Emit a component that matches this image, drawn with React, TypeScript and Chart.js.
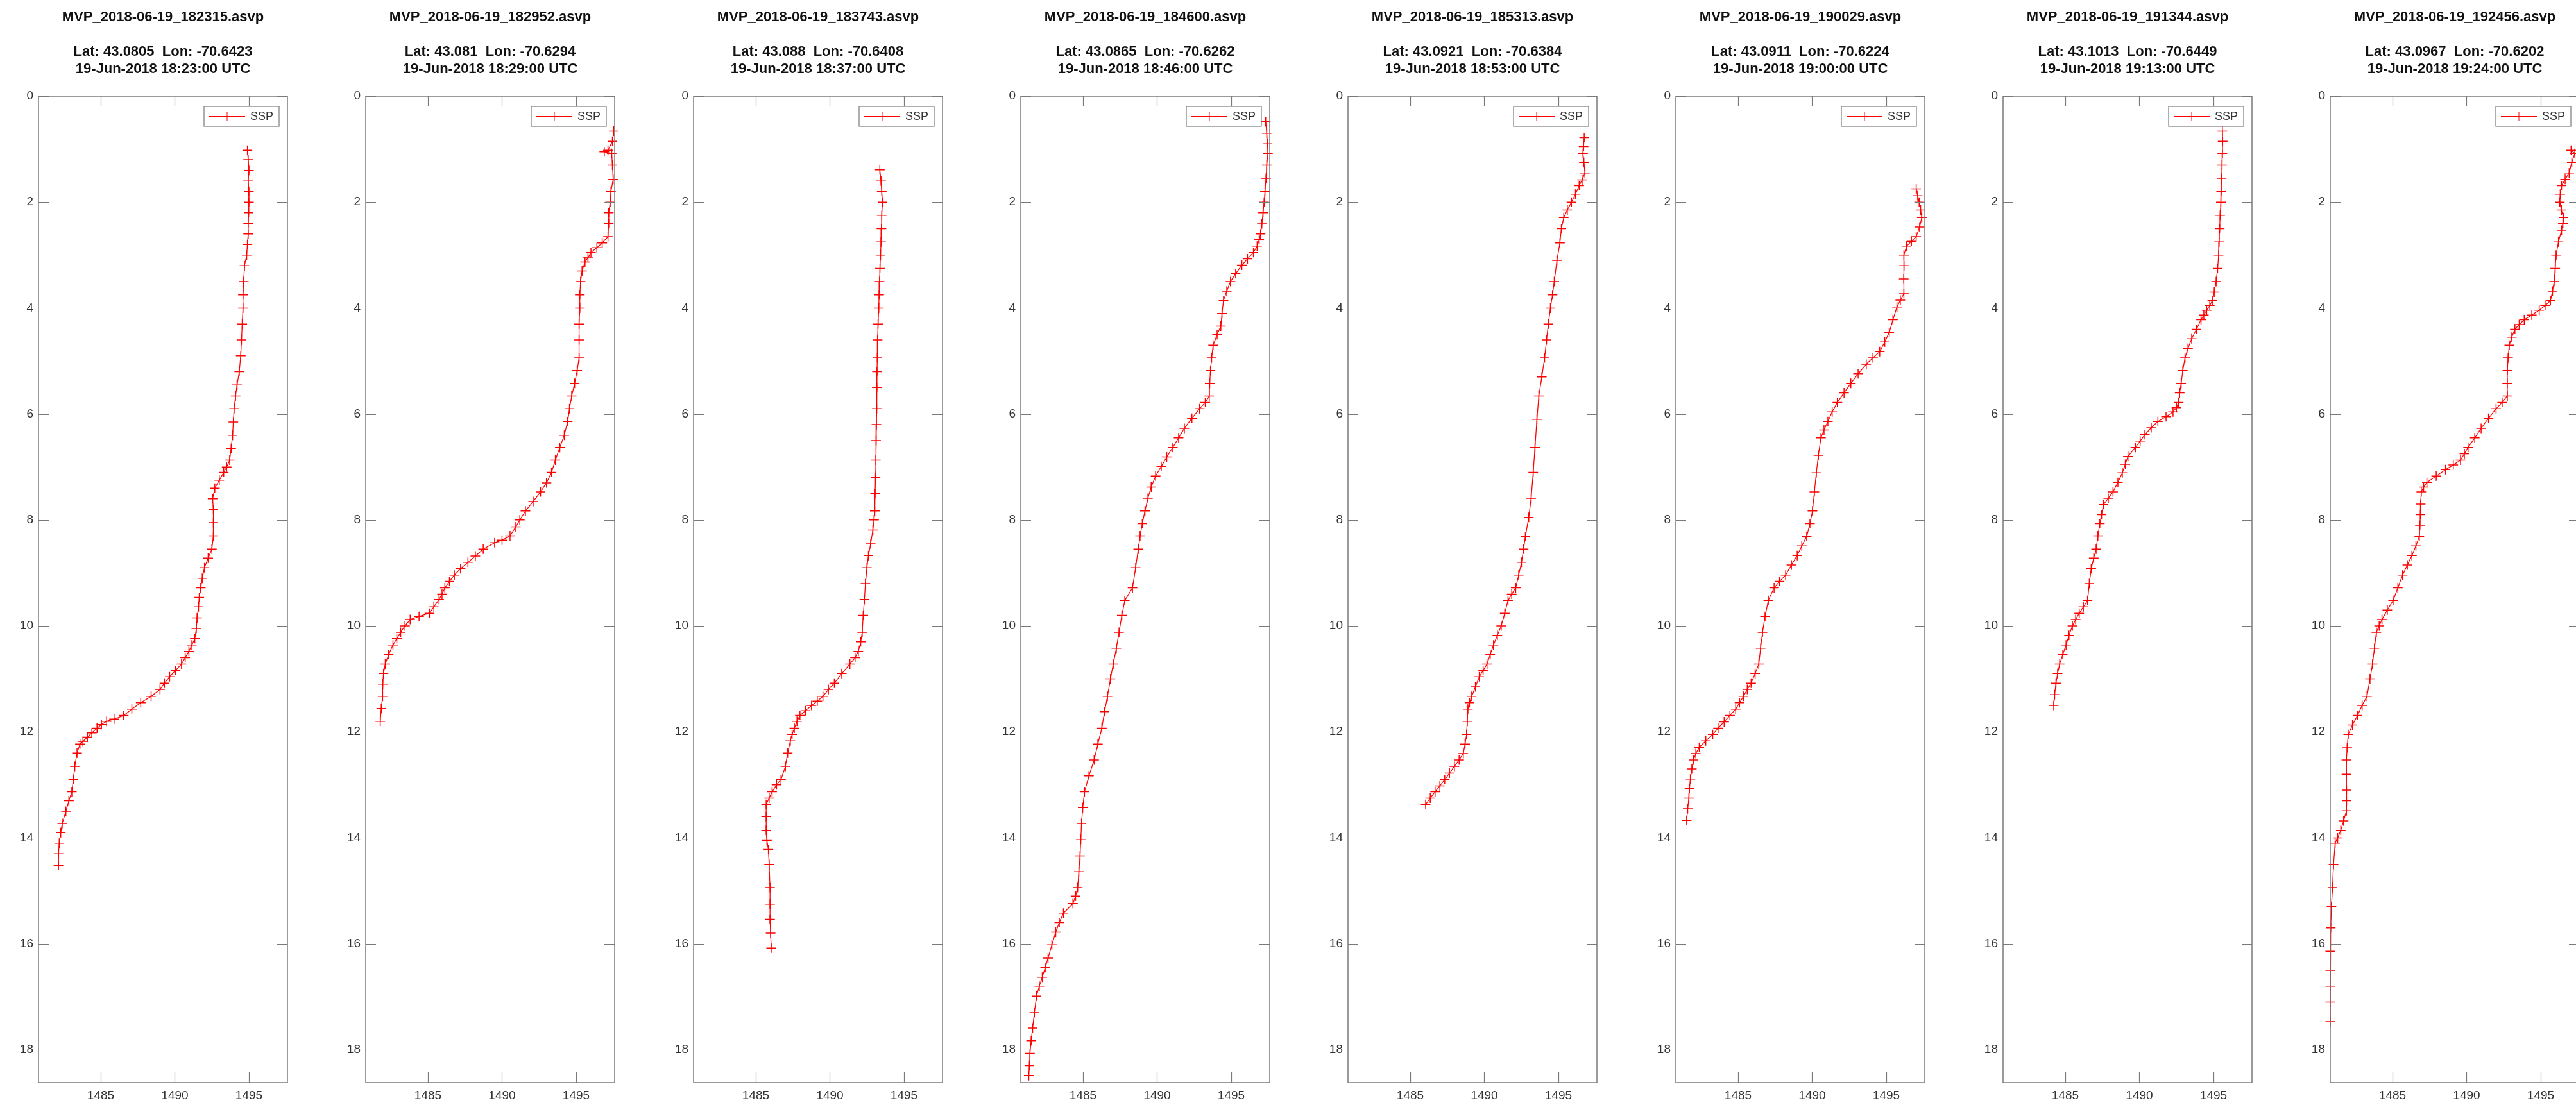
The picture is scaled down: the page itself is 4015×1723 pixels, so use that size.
import React, { useEffect, useRef } from "react";
import { Chart, registerables } from "chart.js";

Chart.register(...registerables);

// ---- profile metadata ----
const fileNames = [
  "MVP_2018-06-19_182315.asvp",
  "MVP_2018-06-19_182952.asvp",
  "MVP_2018-06-19_183743.asvp",
  "MVP_2018-06-19_184600.asvp",
  "MVP_2018-06-19_185313.asvp",
  "MVP_2018-06-19_190029.asvp",
  "MVP_2018-06-19_191344.asvp",
  "MVP_2018-06-19_192456.asvp",
];
const lats = ["43.0805", "43.081", "43.088", "43.0865", "43.0921", "43.0911", "43.1013", "43.0967"];
const lons = ["-70.6423", "-70.6294", "-70.6408", "-70.6262", "-70.6384", "-70.6224", "-70.6449", "-70.6202"];
const times = [
  "19-Jun-2018 18:23:00 UTC",
  "19-Jun-2018 18:29:00 UTC",
  "19-Jun-2018 18:37:00 UTC",
  "19-Jun-2018 18:46:00 UTC",
  "19-Jun-2018 18:53:00 UTC",
  "19-Jun-2018 19:00:00 UTC",
  "19-Jun-2018 19:13:00 UTC",
  "19-Jun-2018 19:24:00 UTC",
];

// ---- axis ticks ----
const speedTicks = [1485, 1490, 1495];
const depthTicks = [0, 2, 4, 6, 8, 10, 12, 14, 16, 18];

// ---- sound speed profiles: depth (m) and sound speed (m/s) ----
const depth1 = [1.02, 1.2, 1.4, 1.6, 1.8, 2.0, 2.2, 2.4, 2.6, 2.8, 3.0, 3.2, 3.5, 3.75, 4.0, 4.3, 4.6, 4.9, 5.2, 5.45, 5.66, 5.9, 6.15, 6.4, 6.65, 6.87, 7.0, 7.1, 7.25, 7.4, 7.6, 7.8, 8.05, 8.3, 8.55, 8.72, 8.9, 9.1, 9.28, 9.46, 9.64, 9.85, 10.05, 10.24, 10.36, 10.48, 10.6, 10.72, 10.84, 10.96, 11.08, 11.2, 11.33, 11.45, 11.57, 11.69, 11.76, 11.8, 11.86, 11.93, 12.02, 12.1, 12.18, 12.23, 12.4, 12.65, 12.9, 13.13, 13.3, 13.5, 13.73, 13.9, 14.1, 14.3, 14.52];
const ssp1 = [1494.9, 1494.95, 1495.0, 1494.95, 1495.0, 1495.0, 1494.98, 1494.95, 1494.95, 1494.9, 1494.85, 1494.7, 1494.65, 1494.6, 1494.6, 1494.55, 1494.5, 1494.45, 1494.35, 1494.2, 1494.1, 1494.0, 1493.95, 1493.9, 1493.8, 1493.7, 1493.5, 1493.3, 1493.0, 1492.7, 1492.55, 1492.6, 1492.6, 1492.6, 1492.5, 1492.25, 1492.0, 1491.85, 1491.75, 1491.65, 1491.6, 1491.5, 1491.45, 1491.35, 1491.15, 1490.95, 1490.7, 1490.45, 1490.05, 1489.65, 1489.3, 1489.0, 1488.4, 1487.7, 1487.1, 1486.55, 1485.9, 1485.4, 1485.05, 1484.75, 1484.4, 1484.1, 1483.8, 1483.6, 1483.4, 1483.25, 1483.15, 1483.05, 1482.85, 1482.65, 1482.4, 1482.3, 1482.2, 1482.15, 1482.15];

const depth2 = [0.66, 0.85, 1.02, 1.05, 1.08, 1.3, 1.57, 1.8, 2.0, 2.2, 2.4, 2.65, 2.77, 2.86, 2.95, 3.05, 3.13, 3.3, 3.5, 3.75, 4.0, 4.3, 4.6, 4.94, 5.18, 5.42, 5.66, 5.9, 6.14, 6.4, 6.63, 6.87, 7.1, 7.3, 7.47, 7.65, 7.83, 8.0, 8.13, 8.3, 8.38, 8.43, 8.55, 8.68, 8.8, 8.92, 9.04, 9.16, 9.28, 9.4, 9.5, 9.64, 9.76, 9.82, 9.88, 10.0, 10.12, 10.24, 10.36, 10.54, 10.72, 10.9, 11.1, 11.33, 11.56, 11.8];
const ssp2 = [1497.54, 1497.45, 1497.15, 1496.9, 1497.4, 1497.45, 1497.5, 1497.35, 1497.3, 1497.2, 1497.2, 1497.15, 1496.76, 1496.4, 1496.0, 1495.8, 1495.6, 1495.4, 1495.3, 1495.25, 1495.25, 1495.2, 1495.2, 1495.2, 1495.07, 1494.9, 1494.7, 1494.55, 1494.43, 1494.2, 1493.9, 1493.6, 1493.34, 1493.0, 1492.6, 1492.1, 1491.58, 1491.2, 1490.93, 1490.54, 1490.0, 1489.5, 1488.73, 1488.2, 1487.7, 1487.2, 1486.78, 1486.45, 1486.14, 1485.95, 1485.75, 1485.4, 1485.1, 1484.4, 1483.8, 1483.45, 1483.16, 1482.9, 1482.64, 1482.35, 1482.12, 1482.0, 1481.95, 1481.94, 1481.85, 1481.78];

const depth3 = [1.39, 1.6, 1.8, 2.0, 2.25, 2.5, 2.75, 3.0, 3.25, 3.5, 3.75, 4.0, 4.3, 4.6, 4.94, 5.2, 5.5, 5.9, 6.2, 6.5, 6.87, 7.2, 7.5, 7.83, 8.0, 8.19, 8.45, 8.67, 8.9, 9.2, 9.5, 9.8, 10.12, 10.3, 10.48, 10.6, 10.72, 10.9, 11.08, 11.2, 11.33, 11.42, 11.5, 11.6, 11.69, 11.8, 11.93, 12.05, 12.17, 12.4, 12.65, 12.9, 13.0, 13.13, 13.25, 13.37, 13.6, 13.86, 14.05, 14.22, 14.5, 14.94, 15.25, 15.54, 15.8, 16.08];
const ssp3 = [1493.37, 1493.45, 1493.5, 1493.55, 1493.5, 1493.48, 1493.45, 1493.42, 1493.38, 1493.35, 1493.32, 1493.3, 1493.25, 1493.22, 1493.2, 1493.18, 1493.17, 1493.16, 1493.14, 1493.12, 1493.1, 1493.08, 1493.05, 1493.03, 1492.98, 1492.9, 1492.75, 1492.6, 1492.5, 1492.4, 1492.33, 1492.25, 1492.18, 1492.08, 1491.92, 1491.7, 1491.35, 1490.8, 1490.3, 1489.9, 1489.53, 1489.15, 1488.76, 1488.35, 1487.98, 1487.78, 1487.6, 1487.45, 1487.33, 1487.15, 1487.0, 1486.7, 1486.4, 1486.1, 1485.9, 1485.7, 1485.7, 1485.7, 1485.75, 1485.85, 1485.9, 1485.96, 1485.96, 1485.96, 1486.0, 1486.04];

const depth4 = [0.48, 0.7, 0.9, 1.08, 1.3, 1.55, 1.8, 2.0, 2.2, 2.41, 2.6, 2.71, 2.83, 2.95, 3.07, 3.19, 3.35, 3.5, 3.68, 3.86, 4.1, 4.34, 4.5, 4.7, 4.94, 5.18, 5.42, 5.66, 5.78, 5.9, 6.08, 6.27, 6.45, 6.63, 6.81, 6.99, 7.17, 7.38, 7.59, 7.83, 8.07, 8.3, 8.55, 8.9, 9.28, 9.52, 9.8, 10.12, 10.42, 10.72, 11.0, 11.33, 11.62, 11.93, 12.23, 12.53, 12.83, 13.13, 13.43, 13.73, 14.03, 14.34, 14.64, 14.94, 15.1, 15.24, 15.42, 15.6, 15.78, 16.02, 16.27, 16.45, 16.63, 16.8, 16.99, 17.3, 17.59, 17.83, 18.07, 18.3, 18.49];
const ssp4 = [1497.33, 1497.4, 1497.45, 1497.48, 1497.4, 1497.35, 1497.28, 1497.22, 1497.15, 1497.07, 1496.98, 1496.89, 1496.75, 1496.5, 1496.1, 1495.72, 1495.3, 1494.95, 1494.7, 1494.48, 1494.38, 1494.3, 1494.05, 1493.78, 1493.68, 1493.6, 1493.55, 1493.52, 1493.25, 1492.87, 1492.35, 1491.84, 1491.45, 1491.06, 1490.65, 1490.28, 1489.9, 1489.6, 1489.38, 1489.18, 1489.0, 1488.85, 1488.73, 1488.55, 1488.34, 1487.82, 1487.62, 1487.43, 1487.25, 1487.04, 1486.85, 1486.65, 1486.45, 1486.27, 1486.0, 1485.75, 1485.4, 1485.1, 1484.98, 1484.9, 1484.85, 1484.8, 1484.72, 1484.64, 1484.5, 1484.32, 1483.68, 1483.4, 1483.16, 1482.9, 1482.64, 1482.45, 1482.25, 1482.05, 1481.86, 1481.72, 1481.6, 1481.5, 1481.42, 1481.38, 1481.34];

const depth5 = [0.78, 0.95, 1.08, 1.25, 1.45, 1.58, 1.69, 1.85, 2.0, 2.15, 2.29, 2.5, 2.77, 3.1, 3.5, 3.75, 4.0, 4.3, 4.6, 4.94, 5.3, 5.66, 6.1, 6.63, 7.1, 7.59, 7.95, 8.31, 8.55, 8.8, 9.04, 9.28, 9.4, 9.52, 9.76, 10.0, 10.18, 10.36, 10.54, 10.72, 10.84, 10.96, 11.15, 11.33, 11.45, 11.57, 11.8, 12.05, 12.23, 12.41, 12.53, 12.65, 12.78, 12.9, 13.02, 13.13, 13.25, 13.37];
const ssp5 = [1496.74, 1496.7, 1496.66, 1496.72, 1496.79, 1496.6, 1496.4, 1496.15, 1495.88, 1495.6, 1495.36, 1495.2, 1495.1, 1494.9, 1494.72, 1494.6, 1494.46, 1494.32, 1494.2, 1494.07, 1493.88, 1493.68, 1493.55, 1493.42, 1493.3, 1493.16, 1493.0, 1492.77, 1492.65, 1492.51, 1492.32, 1492.12, 1491.85, 1491.6, 1491.38, 1491.14, 1490.88, 1490.62, 1490.4, 1490.18, 1489.92, 1489.66, 1489.4, 1489.15, 1489.0, 1488.89, 1488.85, 1488.8, 1488.7, 1488.58, 1488.3, 1487.98, 1487.65, 1487.33, 1487.0, 1486.68, 1486.35, 1486.04];

const depth6 = [1.75, 1.88, 2.0, 2.15, 2.29, 2.47, 2.65, 2.74, 2.83, 3.0, 3.2, 3.45, 3.73, 3.85, 3.98, 4.22, 4.46, 4.64, 4.82, 4.94, 5.06, 5.24, 5.42, 5.6, 5.78, 5.96, 6.14, 6.3, 6.45, 6.78, 7.11, 7.47, 7.83, 8.07, 8.31, 8.49, 8.67, 8.85, 9.04, 9.16, 9.28, 9.52, 9.82, 10.12, 10.42, 10.72, 10.9, 11.08, 11.2, 11.33, 11.45, 11.57, 11.69, 11.81, 11.93, 12.05, 12.17, 12.29, 12.41, 12.53, 12.7, 12.89, 13.07, 13.25, 13.45, 13.67];
const ssp6 = [1497.02, 1497.12, 1497.22, 1497.32, 1497.4, 1497.25, 1497.02, 1496.7, 1496.37, 1496.19, 1496.2, 1496.18, 1496.19, 1495.95, 1495.72, 1495.45, 1495.2, 1494.9, 1494.56, 1494.1, 1493.65, 1493.1, 1492.61, 1492.15, 1491.7, 1491.35, 1491.06, 1490.8, 1490.59, 1490.42, 1490.28, 1490.15, 1490.02, 1489.85, 1489.63, 1489.3, 1488.99, 1488.6, 1488.21, 1487.8, 1487.43, 1487.04, 1486.82, 1486.65, 1486.52, 1486.4, 1486.15, 1485.88, 1485.62, 1485.36, 1485.1, 1484.84, 1484.45, 1484.06, 1483.65, 1483.29, 1482.82, 1482.38, 1482.15, 1481.99, 1481.88, 1481.78, 1481.72, 1481.68, 1481.6, 1481.53];

const depth7 = [0.66, 0.85, 1.08, 1.3, 1.55, 1.8, 2.0, 2.25, 2.5, 2.75, 3.0, 3.25, 3.5, 3.7, 3.86, 3.95, 4.04, 4.13, 4.22, 4.4, 4.58, 4.76, 4.94, 5.18, 5.42, 5.6, 5.78, 5.88, 5.96, 6.05, 6.14, 6.26, 6.39, 6.51, 6.63, 6.8, 6.95, 7.11, 7.29, 7.47, 7.59, 7.71, 7.9, 8.07, 8.3, 8.55, 8.72, 8.92, 9.2, 9.52, 9.64, 9.76, 9.88, 10.0, 10.18, 10.36, 10.54, 10.72, 10.9, 11.08, 11.3, 11.5];
const ssp7 = [1495.6, 1495.62, 1495.6, 1495.58, 1495.55, 1495.52, 1495.5, 1495.45, 1495.42, 1495.38, 1495.35, 1495.28, 1495.18, 1495.05, 1494.92, 1494.75, 1494.54, 1494.35, 1494.16, 1493.85, 1493.53, 1493.28, 1493.08, 1492.93, 1492.82, 1492.72, 1492.65, 1492.5, 1492.27, 1491.8, 1491.25, 1490.8, 1490.37, 1490.05, 1489.73, 1489.23, 1489.05, 1488.85, 1488.55, 1488.22, 1487.9, 1487.58, 1487.45, 1487.33, 1487.2, 1487.08, 1486.92, 1486.75, 1486.62, 1486.5, 1486.22, 1485.94, 1485.7, 1485.48, 1485.25, 1485.05, 1484.83, 1484.62, 1484.48, 1484.37, 1484.28, 1484.22];

const depth8 = [1.02, 1.08, 1.25, 1.45, 1.57, 1.69, 1.85, 2.0, 2.15, 2.29, 2.4, 2.53, 2.75, 3.0, 3.25, 3.5, 3.68, 3.86, 3.95, 4.04, 4.13, 4.22, 4.31, 4.4, 4.55, 4.7, 4.94, 5.18, 5.42, 5.66, 5.78, 5.9, 6.08, 6.27, 6.45, 6.63, 6.75, 6.87, 6.96, 7.05, 7.17, 7.29, 7.38, 7.47, 7.7, 7.9, 8.1, 8.31, 8.49, 8.67, 8.85, 9.04, 9.28, 9.52, 9.7, 9.88, 10.0, 10.12, 10.42, 10.72, 11.0, 11.33, 11.5, 11.69, 11.87, 12.05, 12.3, 12.53, 12.8, 13.1, 13.3, 13.49, 13.68, 13.86, 14.0, 14.1, 14.5, 14.94, 15.3, 15.7, 16.14, 16.5, 16.8, 17.1, 17.47];
const ssp8 = [1497.05, 1497.3, 1497.1, 1496.92, 1496.65, 1496.41, 1496.32, 1496.29, 1496.4, 1496.54, 1496.5, 1496.41, 1496.2, 1496.04, 1495.98, 1495.91, 1495.8, 1495.66, 1495.3, 1494.9, 1494.4, 1493.89, 1493.55, 1493.26, 1493.05, 1492.88, 1492.8, 1492.75, 1492.74, 1492.75, 1492.4, 1491.99, 1491.48, 1490.98, 1490.55, 1490.1, 1489.85, 1489.59, 1489.1, 1488.58, 1487.95, 1487.32, 1487.1, 1486.94, 1486.9, 1486.88, 1486.85, 1486.81, 1486.58, 1486.31, 1486.0, 1485.68, 1485.36, 1485.04, 1484.65, 1484.29, 1484.1, 1483.91, 1483.78, 1483.65, 1483.48, 1483.28, 1482.95, 1482.64, 1482.3, 1482.01, 1481.94, 1481.89, 1481.89, 1481.9, 1481.9, 1481.89, 1481.7, 1481.51, 1481.3, 1481.13, 1481.02, 1480.95, 1480.88, 1480.83, 1480.8, 1480.8, 1480.8, 1480.8, 1480.8];

const depths = [depth1, depth2, depth3, depth4, depth5, depth6, depth7, depth8];
const speeds = [ssp1, ssp2, ssp3, ssp4, ssp5, ssp6, ssp7, ssp8];

// ---- layout ----
const PAGE_W = 4015;
const PAGE_H = 1723;
const FIRST_PLOT_LEFT = 60;
const PANEL_STEP = 510.3;
const CANVAS_W = 510;
const Y_AXIS_W = 60;
const PLOT_W = 388;
const PLOT_TOP = 150;
const X_AXIS_H = 35;

const SPEED_MIN = 1480.8;
const SPEED_MAX = 1497.6;
const DEPTH_MAX = 18.62;

const FONT = "'Liberation Sans', Arial, Helvetica, sans-serif";
const AXIS_COLOR = "#7a7a7a";
const LABEL_COLOR = "#333333";
const LINE_COLOR = "#ff0000";
const TICK_LEN = 16;

const framePlugin = {
  id: "profileFrame",
  afterDatasetsDraw(chart: any, _args: any, opts: any) {
    const { ctx, chartArea } = chart;
    const { left, right, top, bottom } = chartArea;
    const xs = chart.scales.x;
    const ys = chart.scales.y;
    ctx.save();
    // axes box
    ctx.strokeStyle = AXIS_COLOR;
    ctx.lineWidth = 1.5;
    ctx.strokeRect(left, top, right - left, bottom - top);
    // inward ticks on all four sides
    ctx.lineWidth = 1.2;
    ctx.beginPath();
    for (const v of speedTicks) {
      const px = Math.round(xs.getPixelForValue(v)) + 0.5;
      ctx.moveTo(px, bottom);
      ctx.lineTo(px, bottom - TICK_LEN);
      ctx.moveTo(px, top);
      ctx.lineTo(px, top + TICK_LEN);
    }
    for (const v of depthTicks) {
      const py = Math.round(ys.getPixelForValue(v)) + 0.5;
      ctx.moveTo(left, py);
      ctx.lineTo(left + TICK_LEN, py);
      ctx.moveTo(right, py);
      ctx.lineTo(right - TICK_LEN, py);
    }
    ctx.stroke();

    // legend box
    const lx0 = left + 258;
    const lx1 = left + 375;
    const ly0 = top + 16;
    const ly1 = top + 47;
    const lyc = (ly0 + ly1) / 2;
    ctx.fillStyle = "#ffffff";
    ctx.fillRect(lx0, ly0, lx1 - lx0, ly1 - ly0);
    ctx.strokeStyle = AXIS_COLOR;
    ctx.lineWidth = 1.2;
    ctx.strokeRect(lx0, ly0, lx1 - lx0, ly1 - ly0);
    ctx.strokeStyle = LINE_COLOR;
    ctx.lineWidth = 1;
    ctx.beginPath();
    ctx.moveTo(lx0 + 8, lyc);
    ctx.lineTo(lx0 + 64, lyc);
    ctx.moveTo(lx0 + 36, lyc - 7);
    ctx.lineTo(lx0 + 36, lyc + 7);
    ctx.stroke();
    ctx.fillStyle = LABEL_COLOR;
    ctx.font = `18px ${FONT}`;
    ctx.textAlign = "left";
    ctx.textBaseline = "middle";
    ctx.fillText(chart.data.datasets[0].label, lx0 + 72, lyc + 1);

    // titles
    const cx = (left + right) / 2;
    ctx.fillStyle = "#111111";
    ctx.textAlign = "center";
    ctx.font = `bold 22px ${FONT}`;
    ctx.fillText(opts.fileName, cx, 27);
    ctx.fillText(opts.position, cx, 81);
    ctx.fillText(opts.time, cx, 108);
    ctx.restore();
  },
};

function ProfilePanel({ index }: { index: number }) {
  const ref = useRef<HTMLCanvasElement | null>(null);
  useEffect(() => {
    if (!ref.current) return;
    const points = depths[index].map((d, i) => ({ x: speeds[index][i], y: d }));
    const chart = new Chart(ref.current, {
      type: "scatter",
      data: {
        datasets: [
          {
            label: "SSP",
            data: points,
            showLine: true,
            borderColor: LINE_COLOR,
            borderWidth: 1.3,
            pointStyle: "cross",
            pointRadius: 7.5,
            pointBorderColor: LINE_COLOR,
            pointBorderWidth: 1.5,
            pointBackgroundColor: LINE_COLOR,
            clip: false as any,
          },
        ],
      },
      options: {
        animation: false,
        responsive: false,
        devicePixelRatio: 1,
        layout: { padding: { top: PLOT_TOP, right: CANVAS_W - Y_AXIS_W - PLOT_W, left: 0, bottom: 0 } },
        plugins: {
          legend: { display: false },
          tooltip: { enabled: false },
          title: { display: false },
          profileFrame: {
            fileName: fileNames[index],
            position: `Lat: ${lats[index]}  Lon: ${lons[index]}`,
            time: times[index],
          },
        } as any,
        scales: {
          x: {
            type: "linear",
            position: "bottom",
            min: SPEED_MIN,
            max: SPEED_MAX,
            grid: { display: false, drawTicks: false },
            border: { display: false },
            ticks: {
              font: { family: FONT, size: 19 },
              color: LABEL_COLOR,
              padding: 9,
              maxRotation: 0,
              autoSkip: false,
              callback: (v: any) => String(v),
            },
            afterBuildTicks: (s: any) => {
              s.ticks = speedTicks.map((v) => ({ value: v }));
            },
            afterFit: (s: any) => {
              s.height = X_AXIS_H;
            },
          },
          y: {
            type: "linear",
            reverse: true,
            min: 0,
            max: DEPTH_MAX,
            grid: { display: false, drawTicks: false },
            border: { display: false },
            ticks: {
              font: { family: FONT, size: 19 },
              color: LABEL_COLOR,
              padding: 8,
              autoSkip: false,
              callback: (v: any) => String(v),
            },
            afterBuildTicks: (s: any) => {
              s.ticks = depthTicks.map((v) => ({ value: v }));
            },
            afterFit: (s: any) => {
              s.width = Y_AXIS_W;
            },
          },
        },
      },
      plugins: [framePlugin],
    });
    return () => chart.destroy();
  }, [index]);

  const left = Math.round(FIRST_PLOT_LEFT + index * PANEL_STEP - Y_AXIS_W);
  return (
    <canvas
      ref={ref}
      width={CANVAS_W}
      height={PAGE_H}
      style={{ position: "absolute", left, top: 0, width: CANVAS_W, height: PAGE_H }}
    />
  );
}

export default function App() {
  return (
    <div
      style={{
        position: "fixed",
        left: 0,
        top: 0,
        width: PAGE_W,
        height: PAGE_H,
        overflow: "hidden",
        background: "#ffffff",
      }}
    >
      {fileNames.map((_, i) => (
        <ProfilePanel key={i} index={i} />
      ))}
    </div>
  );
}
